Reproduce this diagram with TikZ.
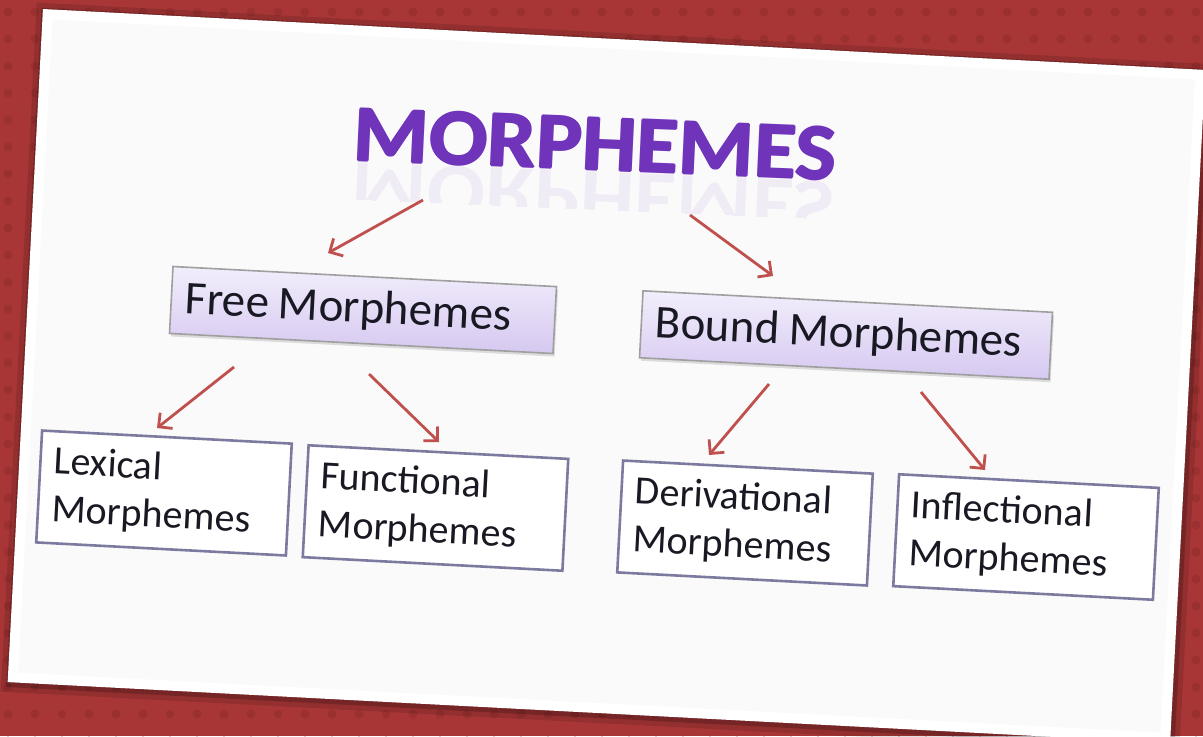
\documentclass[tikz,border=0pt]{standalone}
\usepackage{fontspec}
\setmainfont{Carlito}
\usetikzlibrary{arrows.meta,shadows}
\definecolor{bgred}{RGB}{168,54,54}
\definecolor{dotred}{RGB}{155,48,48}
\definecolor{cardgray}{RGB}{250,250,250}
\definecolor{titlepurple}{RGB}{112,52,186}
\definecolor{arrowred}{RGB}{192,80,77}
\definecolor{boxedge}{RGB}{125,122,160}
\definecolor{lavtop}{RGB}{242,238,252}
\definecolor{lavbot}{RGB}{214,200,240}
\definecolor{textdark}{RGB}{25,25,35}
\newcommand\mytightspace{\spaceskip=0.2em\relax}
\begin{document}
\begin{tikzpicture}[x=0.5pt,y=-0.5pt,
 cardnode/.style={rotate=-3, inner sep=0, minimum width=582pt, minimum height=337pt},
 bigbox/.style={rotate=-3, draw=gray!75, line width=0.8pt, top color=lavtop, bottom color=lavbot,
   minimum height=33.5pt, inner xsep=7pt, align=left, font=\fontsize{23.5}{28}\selectfont, text=textdark,
   drop shadow={opacity=0.25, shadow xshift=0.8pt, shadow yshift=-1.5pt}},
 smallbox/.style={rotate=-3, draw=boxedge, line width=1.3pt, fill=white, minimum height=56pt,
   inner xsep=7pt, align=left, font=\fontsize{20}{24}\selectfont, text=textdark},
 arr/.style={draw=arrowred, line width=1.4pt, -{Straight Barb[length=5pt,width=10pt]}},
 titletext/.style={font=\fontsize{40}{48}\bfseries\selectfont, text=titlepurple, anchor=base, inner sep=0, xscale=1.08, rotate=-2.5}
]
\useasboundingbox (0,0) rectangle (1203,736);
\clip (0,0) rectangle (1203,736);
% background
\fill[bgred] (0,0) rectangle (1203,736);
\foreach \i in {0,...,45} {
  \foreach \j in {0,...,27} {
    \fill[dotred] (\i*27+8,\j*27+12) circle[radius=2.2pt];
  }
}
% card with shadow
\node[cardnode, fill=black, opacity=0.12, minimum width=590pt, minimum height=345pt] (shadowb) at (608,378) {};
\node[cardnode, fill=black, opacity=0.2, minimum width=585pt, minimum height=340pt] (shadowa) at (608,378) {};
\node[cardnode, fill=white] (card) at (606.5,376) {};
\node[cardnode, fill=cardgray, minimum width=572pt, minimum height=327pt] (cardin) at (606.5,376) {};
% title reflection (faint, clipped)
\begin{scope}
  \clip (300,150) -- (900,175) -- (900,222) -- (300,197) -- cycle;
  \node[titletext, yscale=-1, opacity=0.07] (titlerefl) at (594,172) {MORPHEMES};
\end{scope}
% title (slightly emboldened by overlaid copies)
\foreach \dx/\dy [count=\k] in {-0.9/0, 0.9/0, 0/-0.9, 0/0.9} {
  \node[titletext] (titlecopy\k) at (594+\dx,170+\dy) {MORPHEMES};
}
\node[titletext] (title) at (594,170) {MORPHEMES};
% boxes
\node[bigbox, text width=178pt] (free) at (363,310) {\mytightspace Free Morphemes};
\node[bigbox, text width=191pt] (bound) at (846,335) {\mytightspace Bound Morphemes};
\node[smallbox, text width=111pt] (lex) at (164,493) {Lexical\\Morphemes};
\node[smallbox, text width=116pt] (fun) at (435.5,508) {Functional\\Morphemes};
\node[smallbox, text width=111pt] (der) at (745,523) {Derivational\\Morphemes};
\node[smallbox, text width=116pt] (inf) at (1026,537) {Inflectional\\Morphemes};
% arrow ends
\coordinate (a1s) at (423,200); \coordinate (a1e) at (328,253);
\coordinate (a2s) at (690,215); \coordinate (a2e) at (773,276);
\coordinate (a3s) at (234,367); \coordinate (a3e) at (157,428);
\coordinate (a4s) at (369,374); \coordinate (a4e) at (439,442);
\coordinate (a5s) at (769,384); \coordinate (a5e) at (709,455);
\coordinate (a6s) at (921,392); \coordinate (a6e) at (985,470);
\draw[arr] (a1s) -- (a1e);
\draw[arr] (a2s) -- (a2e);
\draw[arr] (a3s) -- (a3e);
\draw[arr] (a4s) -- (a4e);
\draw[arr] (a5s) -- (a5e);
\draw[arr] (a6s) -- (a6e);
\end{tikzpicture}
\end{document}
